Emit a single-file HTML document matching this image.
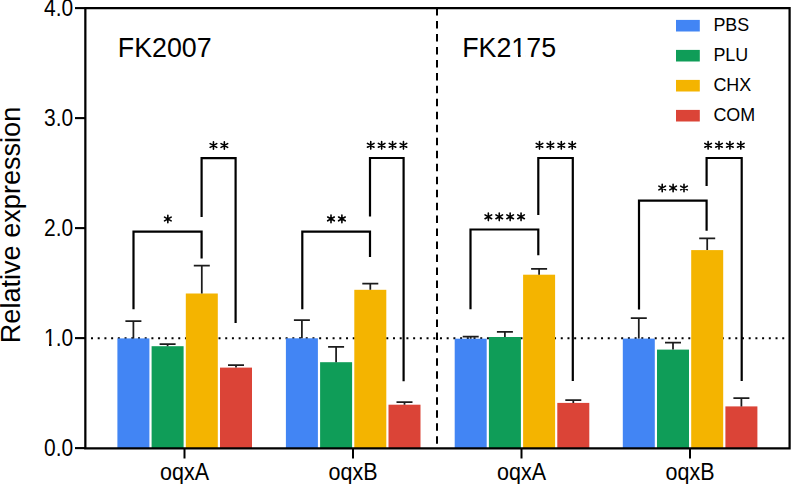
<!DOCTYPE html>
<html><head><meta charset="utf-8"><style>
html,body{margin:0;padding:0;background:#fff;width:792px;height:484px;overflow:hidden}
svg{display:block}
text{font-family:"Liberation Sans",sans-serif;fill:#000}
</style></head><body>
<svg width="792" height="484" viewBox="0 0 792 484">
<rect width="792" height="484" fill="#fff"/>
<path d="M91.00 338.3h2M97.71 338.3h2M104.42 338.3h2M111.13 338.3h2M117.84 338.3h2M124.55 338.3h2M131.27 338.3h2M137.98 338.3h2M144.69 338.3h2M151.40 338.3h2M158.11 338.3h2M164.82 338.3h2M171.53 338.3h2M178.24 338.3h2M184.95 338.3h2M191.67 338.3h2M198.38 338.3h2M205.09 338.3h2M211.80 338.3h2M218.51 338.3h2M225.22 338.3h2M231.93 338.3h2M238.64 338.3h2M245.35 338.3h2M252.06 338.3h2M258.78 338.3h2M265.49 338.3h2M272.20 338.3h2M278.91 338.3h2M285.62 338.3h2M292.33 338.3h2M299.04 338.3h2M305.75 338.3h2M312.46 338.3h2M319.17 338.3h2M325.89 338.3h2M332.60 338.3h2M339.31 338.3h2M346.02 338.3h2M352.73 338.3h2M359.44 338.3h2M366.15 338.3h2M372.86 338.3h2M379.57 338.3h2M386.28 338.3h2M393.00 338.3h2M399.71 338.3h2M406.42 338.3h2M413.13 338.3h2M419.84 338.3h2M426.55 338.3h2M433.26 338.3h2M439.97 338.3h2M446.68 338.3h2M453.39 338.3h2M460.11 338.3h2M466.82 338.3h2M473.53 338.3h2M480.24 338.3h2M486.95 338.3h2M493.66 338.3h2M500.37 338.3h2M507.08 338.3h2M513.79 338.3h2M520.50 338.3h2M527.22 338.3h2M533.93 338.3h2M540.64 338.3h2M547.35 338.3h2M554.06 338.3h2M560.77 338.3h2M567.48 338.3h2M574.19 338.3h2M580.90 338.3h2M587.61 338.3h2M594.33 338.3h2M601.04 338.3h2M607.75 338.3h2M614.46 338.3h2M621.17 338.3h2M627.88 338.3h2M634.59 338.3h2M641.30 338.3h2M648.01 338.3h2M654.72 338.3h2M661.44 338.3h2M668.15 338.3h2M674.86 338.3h2M681.57 338.3h2M688.28 338.3h2M694.99 338.3h2M701.70 338.3h2M708.41 338.3h2M715.12 338.3h2M721.83 338.3h2M728.55 338.3h2M735.26 338.3h2M741.97 338.3h2M748.68 338.3h2M755.39 338.3h2M762.10 338.3h2M768.81 338.3h2M775.52 338.3h2M782.23 338.3h2" stroke="#000" stroke-width="2" fill="none"/>
<rect x="117.40" y="338.40" width="32.0" height="109.60" fill="#4285F4"/>
<rect x="151.60" y="346.20" width="32.0" height="101.80" fill="#0F9D58"/>
<rect x="185.80" y="293.50" width="32.0" height="154.50" fill="#F4B400"/>
<rect x="220.00" y="367.60" width="32.0" height="80.40" fill="#DB4437"/>
<rect x="285.90" y="338.30" width="32.0" height="109.70" fill="#4285F4"/>
<rect x="320.10" y="362.20" width="32.0" height="85.80" fill="#0F9D58"/>
<rect x="354.30" y="289.80" width="32.0" height="158.20" fill="#F4B400"/>
<rect x="388.50" y="404.70" width="32.0" height="43.30" fill="#DB4437"/>
<rect x="454.70" y="338.70" width="32.0" height="109.30" fill="#4285F4"/>
<rect x="488.90" y="337.00" width="32.0" height="111.00" fill="#0F9D58"/>
<rect x="523.10" y="274.70" width="32.0" height="173.30" fill="#F4B400"/>
<rect x="557.30" y="402.90" width="32.0" height="45.10" fill="#DB4437"/>
<rect x="622.80" y="338.60" width="32.0" height="109.40" fill="#4285F4"/>
<rect x="657.00" y="349.60" width="32.0" height="98.40" fill="#0F9D58"/>
<rect x="691.20" y="250.10" width="32.0" height="197.90" fill="#F4B400"/>
<rect x="725.40" y="406.40" width="32.0" height="41.60" fill="#DB4437"/>
<path d="M133.40 338.40V321.20M125.40 321.20H141.40" stroke="#1c1c1c" stroke-width="1.75" fill="none"/>
<path d="M167.60 346.20V344.10M159.60 344.10H175.60" stroke="#1c1c1c" stroke-width="1.75" fill="none"/>
<path d="M201.80 293.50V265.50M193.80 265.50H209.80" stroke="#1c1c1c" stroke-width="1.75" fill="none"/>
<path d="M236.00 367.60V365.10M228.00 365.10H244.00" stroke="#1c1c1c" stroke-width="1.75" fill="none"/>
<path d="M301.90 338.30V320.20M293.90 320.20H309.90" stroke="#1c1c1c" stroke-width="1.75" fill="none"/>
<path d="M336.10 362.20V346.90M328.10 346.90H344.10" stroke="#1c1c1c" stroke-width="1.75" fill="none"/>
<path d="M370.30 289.80V283.70M362.30 283.70H378.30" stroke="#1c1c1c" stroke-width="1.75" fill="none"/>
<path d="M404.50 404.70V402.10M396.50 402.10H412.50" stroke="#1c1c1c" stroke-width="1.75" fill="none"/>
<path d="M470.70 338.70V336.70M462.70 336.70H478.70" stroke="#1c1c1c" stroke-width="1.75" fill="none"/>
<path d="M504.90 337.00V331.80M496.90 331.80H512.90" stroke="#1c1c1c" stroke-width="1.75" fill="none"/>
<path d="M539.10 274.70V268.90M531.10 268.90H547.10" stroke="#1c1c1c" stroke-width="1.75" fill="none"/>
<path d="M573.30 402.90V400.00M565.30 400.00H581.30" stroke="#1c1c1c" stroke-width="1.75" fill="none"/>
<path d="M638.80 338.60V318.20M630.80 318.20H646.80" stroke="#1c1c1c" stroke-width="1.75" fill="none"/>
<path d="M673.00 349.60V342.70M665.00 342.70H681.00" stroke="#1c1c1c" stroke-width="1.75" fill="none"/>
<path d="M707.20 250.10V238.40M699.20 238.40H715.20" stroke="#1c1c1c" stroke-width="1.75" fill="none"/>
<path d="M741.40 406.40V398.00M733.40 398.00H749.40" stroke="#1c1c1c" stroke-width="1.75" fill="none"/>
<path d="M437 8V444" stroke="#000" stroke-width="2" stroke-dasharray="7.5 5.475" fill="none"/>
<path d="M85.35 7V449.4M84.2 448.3H790.7M85.35 8.1H790.7M789.6 7V449.4" stroke="#000" stroke-width="2.25" fill="none"/>
<path d="M75 448.1H85.3" stroke="#000" stroke-width="2.1"/>
<path d="M75 338.1H85.3" stroke="#000" stroke-width="2.1"/>
<path d="M75 228.1H85.3" stroke="#000" stroke-width="2.1"/>
<path d="M75 118.1H85.3" stroke="#000" stroke-width="2.1"/>
<path d="M75 8.1H85.3" stroke="#000" stroke-width="2.1"/>
<path d="M184.5 448V458.5" stroke="#000" stroke-width="2"/>
<path d="M353.0 448V458.5" stroke="#000" stroke-width="2"/>
<path d="M521.5 448V458.5" stroke="#000" stroke-width="2"/>
<path d="M690.0 448V458.5" stroke="#000" stroke-width="2"/>
<path d="M133.5 309.20V231.70H201.6V258.60" stroke="#000" stroke-width="2.2" fill="none"/>
<path d="M201.6 217.10V158.20H235.6V323.10" stroke="#000" stroke-width="2.2" fill="none"/>
<path d="M302.3 309.20V231.60H370.0V257.00" stroke="#000" stroke-width="2.2" fill="none"/>
<path d="M370.0 216.60V158.00H403.6V381.20" stroke="#000" stroke-width="2.2" fill="none"/>
<path d="M470.5 309.20V229.50H538.3V255.30" stroke="#000" stroke-width="2.2" fill="none"/>
<path d="M538.3 214.90V158.00H572.8V380.90" stroke="#000" stroke-width="2.2" fill="none"/>
<path d="M639.0 309.40V200.70H706.6V230.70" stroke="#000" stroke-width="2.2" fill="none"/>
<path d="M706.6 186.10V158.00H741.7V380.90" stroke="#000" stroke-width="2.2" fill="none"/>
<path d="M167.85 215.20L167.85 222.80M164.56 217.10L171.14 220.90M171.14 217.10L164.56 220.90M213.45 141.70L213.45 149.30M210.16 143.60L216.74 147.40M216.74 143.60L210.16 147.40M224.35 141.70L224.35 149.30M221.06 143.60L227.64 147.40M227.64 143.60L221.06 147.40M331.00 215.10L331.00 222.70M327.71 217.00L334.29 220.80M334.29 217.00L327.71 220.80M341.90 215.10L341.90 222.70M338.61 217.00L345.19 220.80M345.19 217.00L338.61 220.80M370.75 141.50L370.75 149.10M367.46 143.40L374.04 147.20M374.04 143.40L367.46 147.20M381.65 141.50L381.65 149.10M378.36 143.40L384.94 147.20M384.94 143.40L378.36 147.20M392.55 141.50L392.55 149.10M389.26 143.40L395.84 147.20M395.84 143.40L389.26 147.20M403.45 141.50L403.45 149.10M400.16 143.40L406.74 147.20M406.74 143.40L400.16 147.20M488.35 213.00L488.35 220.60M485.06 214.90L491.64 218.70M491.64 214.90L485.06 218.70M499.25 213.00L499.25 220.60M495.96 214.90L502.54 218.70M502.54 214.90L495.96 218.70M510.15 213.00L510.15 220.60M506.86 214.90L513.44 218.70M513.44 214.90L506.86 218.70M521.05 213.00L521.05 220.60M517.76 214.90L524.34 218.70M524.34 214.90L517.76 218.70M539.50 141.50L539.50 149.10M536.21 143.40L542.79 147.20M542.79 143.40L536.21 147.20M550.40 141.50L550.40 149.10M547.11 143.40L553.69 147.20M553.69 143.40L547.11 147.20M561.30 141.50L561.30 149.10M558.01 143.40L564.59 147.20M564.59 143.40L558.01 147.20M572.20 141.50L572.20 149.10M568.91 143.40L575.49 147.20M575.49 143.40L568.91 147.20M662.20 184.20L662.20 191.80M658.91 186.10L665.49 189.90M665.49 186.10L658.91 189.90M673.10 184.20L673.10 191.80M669.81 186.10L676.39 189.90M676.39 186.10L669.81 189.90M684.00 184.20L684.00 191.80M680.71 186.10L687.29 189.90M687.29 186.10L680.71 189.90M708.10 141.50L708.10 149.10M704.81 143.40L711.39 147.20M711.39 143.40L704.81 147.20M719.00 141.50L719.00 149.10M715.71 143.40L722.29 147.20M722.29 143.40L715.71 147.20M729.90 141.50L729.90 149.10M726.61 143.40L733.19 147.20M733.19 143.40L726.61 147.20M740.80 141.50L740.80 149.10M737.51 143.40L744.09 147.20M744.09 143.40L737.51 147.20" stroke="#000" stroke-width="1.6" stroke-linecap="round" fill="none"/>
<rect x="676" y="19.9" width="23.8" height="11.6" fill="#4285F4"/>
<text x="713.4" y="31.20" font-size="17.9">PBS</text>
<rect x="676" y="49.9" width="23.8" height="11.6" fill="#0F9D58"/>
<text x="713.4" y="61.20" font-size="17.9">PLU</text>
<rect x="676" y="79.9" width="23.8" height="11.6" fill="#F4B400"/>
<text x="713.4" y="91.20" font-size="17.9">CHX</text>
<rect x="676" y="109.9" width="23.8" height="11.6" fill="#DB4437"/>
<text x="713.4" y="121.20" font-size="17.9">COM</text>
<text transform="translate(73.2 455.50) scale(1 1.11)" font-size="21" text-anchor="end">0.0</text>
<text transform="translate(73.2 345.50) scale(1 1.11)" font-size="21" text-anchor="end">1.0</text>
<text transform="translate(73.2 235.50) scale(1 1.11)" font-size="21" text-anchor="end">2.0</text>
<text transform="translate(73.2 125.50) scale(1 1.11)" font-size="21" text-anchor="end">3.0</text>
<text transform="translate(73.2 15.50) scale(1 1.11)" font-size="21" text-anchor="end">4.0</text>
<text x="117.8" y="57.3" font-size="26.8">FK2007</text>
<text x="462.2" y="57.3" font-size="26.8">FK2175</text>
<text transform="translate(184.5 479.8) scale(1 1.08)" font-size="21.5" text-anchor="middle">oqxA</text>
<text transform="translate(353.0 479.8) scale(1 1.08)" font-size="21.5" text-anchor="middle">oqxB</text>
<text transform="translate(521.5 479.8) scale(1 1.08)" font-size="21.5" text-anchor="middle">oqxA</text>
<text transform="translate(690.0 479.8) scale(1 1.08)" font-size="21.5" text-anchor="middle">oqxB</text>
<text transform="translate(19.9 225.0) rotate(-90)" font-size="27.1" text-anchor="middle">Relative expression</text>
<path d="M44.5 343.6H49V346.2H44.5ZM51.55 343.6H55.6V346.2H51.55ZM512.3 54.6H518V57.2H512.3ZM520.65 54.6H525.8V57.2H520.65Z" fill="#fff"/>
</svg>
</body></html>
